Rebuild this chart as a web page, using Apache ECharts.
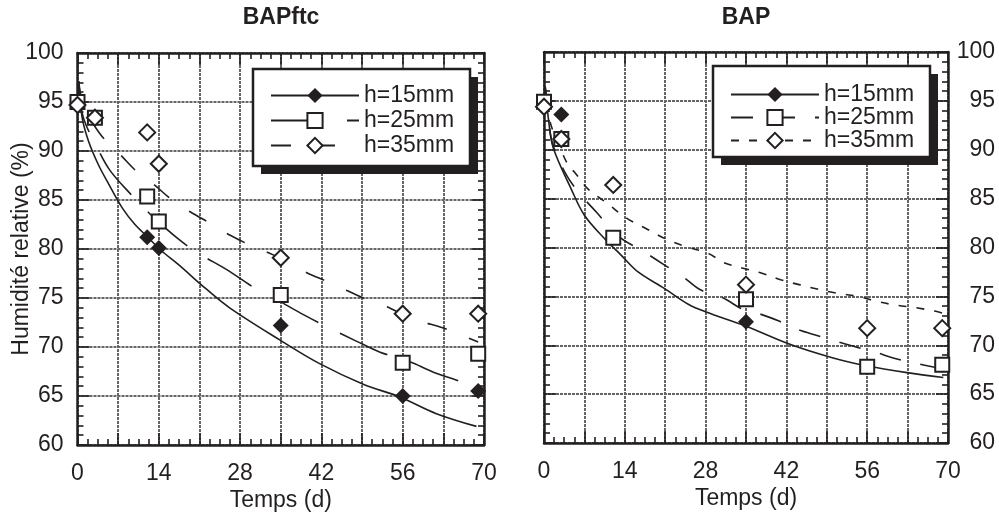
<!DOCTYPE html>
<html><head><meta charset="utf-8">
<script src="https://cdn.jsdelivr.net/npm/echarts@6/dist/echarts.min.js"></script>
<style>html,body{margin:0;padding:0;background:#fff}#c{width:999px;height:518px}</style>
</head><body><div id="c"></div>
<script>
// ---------- data ----------
const panelTitles = ['BAPftc', 'BAP'];
const seriesNames = ['h=15mm', 'h=25mm', 'h=35mm'];
const xTickLabels = [0, 14, 28, 42, 56, 70];

// measured points, left panel (BAPftc)
const ftcDays = [0, 3, 12, 14, 35, 56, 69];
const ftcH15 = [95.0, 93.4, 81.2, 80.1, 72.2, 65.0, 65.5];
const ftcH25 = [95.0, 93.4, 85.35, 82.8, 75.3, 68.4, 69.3];
const ftcH35 = [94.7, 93.4, 91.9, 88.7, 79.1, 73.4, 73.4];

// measured points, right panel (BAP)
const bapDays = [0, 3, 12, 35, 56, 69];
const bapH15 = [95.0, 93.6, 81.0, 72.4, 67.8, 68.0];
const bapH25 = [94.9, 91.1, 81.0, 74.7, 67.8, 68.0];
const bapH35 = [94.4, 91.1, 86.4, 76.2, 71.75, 71.75];

// model curves as [day, RH]
const ftcFit15 = [[0.2,97.1],[0.8,93.4],[1.9,91.0],[3.6,88.6],[5.4,86.6],[7.7,84.2],[9.9,82.5],[12.3,81.1],[14.3,79.9],[17.4,78.4],[22,76.0],[26.2,74.0],[34.9,70.7],[41.7,68.3],[49.2,66.2],[55.5,64.9],[61.8,63.2],[68.7,61.9]];
const ftcFit25 = [[0.2,97.1],[0.8,93.9],[1.5,92.6],[3,90.8],[5.5,88.1],[9,85.7],[12.8,83.4],[17.4,81.0],[21,79.5],[25.7,77.9],[30.3,76.1],[35,74.6],[38.9,73.3],[43.5,71.9],[48,70.6],[52,69.5],[57.2,68.5],[61,67.5],[65.3,66.6],[69,65.8]];
const ftcFit35 = [[0.2,97.1],[0.8,95.0],[1.5,93.9],[3,92.5],[4.5,91.3],[7.4,89.6],[10.2,87.9],[13.1,86.6],[16.3,85.0],[19.4,83.8],[22.9,82.6],[26.3,81.4],[29.7,80.4],[33.7,79.4],[36,78.7],[39.4,77.6],[42.9,76.7],[46.3,75.8],[49.2,75.0],[52.9,74.2],[56.9,73.1],[59.2,72.6],[62.7,72.0],[65.8,71.3],[69,70.5]];

const bapFit15 = [[0.2,96.5],[0.8,93.0],[1.6,90.2],[4.7,86.0],[7,83.3],[10.5,80.9],[13.4,79.2],[16.3,77.5],[20.9,75.8],[25,74.2],[28.1,73.4],[34.8,72.0],[42.6,70.1],[50.1,68.7],[55.9,67.9],[62.9,67.2],[69.2,66.7]];
const bapFit25 = [[0.2,96.5],[0.8,93.2],[1.5,90.6],[3.9,87.4],[6.5,85.3],[9.1,83.6],[12.8,81.2],[17.5,79.5],[20.9,78.2],[24.1,77.0],[27,75.7],[30.8,74.9],[35,73.5],[37.4,73.2],[40.6,72.5],[44,71.6],[47.3,71.0],[50.7,70.4],[54.2,69.8],[57.4,69.3],[60.5,68.7],[64,68.2],[69,67.6]];
const bapFit35 = [[0.2,96.5],[1,93.0],[2,91.3],[4.2,88.4],[5.3,87.7],[7.6,86.0],[11,84.5],[14.3,83.0],[17.8,81.9],[21,80.9],[24.5,80.1],[28.5,79.4],[31,78.5],[34.3,77.9],[37.6,77.4],[41,76.7],[44.2,76.2],[47.7,75.7],[51,75.3],[54.4,75.0],[57.6,74.5],[61,74.1],[64.3,73.85],[67.7,73.5],[69,73.3]];

// ---------- styling ----------
const INK = '#231f20';
const FONT = '"Liberation Sans", Arial, sans-serif';
const FS = 23;
const GRIDLINE = { color: '#666', width: 2, type: [3, 1] };
const zip = (xs, ys) => xs.map((x, i) => [x, ys[i]]);

const markers = [
  { symbol: 'diamond', size: 16, style: { color: INK, opacity: 1 } },
  { symbol: 'rect', size: 14, style: { color: '#fff', borderColor: INK, borderWidth: 2, opacity: 1 } },
  { symbol: 'diamond', size: 16, style: { color: '#fff', borderColor: INK, borderWidth: 2, opacity: 1 } }
];

const grids = [
  { left: 77.5, top: 53, width: 406.5, height: 392, outerBoundsMode: 'none' },
  { left: 544, top: 52, width: 404, height: 391, outerBoundsMode: 'none' }
];

function xAxis(g, bottom) {
  return {
    gridIndex: g, type: 'value', min: 0, max: 70, interval: 7,
    position: bottom ? 'bottom' : 'top',
    axisLine: { show: true, onZero: false, lineStyle: { color: INK, width: 2.5 } },
    axisTick: { show: true, inside: true, length: 12, lineStyle: { color: INK, width: 1.6 } },
    minorTick: { show: true, splitNumber: 4, length: 6, lineStyle: { color: INK, width: 1.6 } },
    axisLabel: {
      show: bottom, margin: 17, fontSize: FS, fontFamily: FONT, color: INK,
      formatter: v => (xTickLabels.indexOf(v) >= 0 ? String(v) : '')
    },
    splitLine: { show: bottom, lineStyle: GRIDLINE },
    name: bottom ? 'Temps (d)' : '', nameLocation: 'middle', nameGap: 44, nameMoveOverlap: false,
    nameTextStyle: { fontSize: FS, fontFamily: FONT, color: INK }
  };
}
function yAxis(g, pos, labels, grid, nameText) {
  return {
    gridIndex: g, type: 'value', min: 60, max: 100, interval: 5, position: pos,
    axisLine: { show: true, onZero: false, lineStyle: { color: INK, width: 2.5 } },
    axisTick: { show: true, inside: true, length: 12, lineStyle: { color: INK, width: 1.6 } },
    minorTick: { show: true, splitNumber: 5, length: 6, lineStyle: { color: INK, width: 1.6 } },
    axisLabel: {
      show: labels, fontSize: FS, fontFamily: FONT, color: INK,
      margin: pos === 'left' ? 14 : 47, align: 'right'
    },
    splitLine: { show: grid, lineStyle: GRIDLINE },
    name: nameText || '', nameLocation: 'middle', nameGap: 44, nameMoveOverlap: false,
    nameTextStyle: { fontSize: FS, fontFamily: FONT, color: INK }
  };
}

const dashes = [
  ['solid', [52, 24], [20, 24]],
  ['solid', [22, 20], [8, 10]]
];
const panels = [
  { prefix: 'L|', xi: 0, yi: 0, days: ftcDays, pts: [ftcH15, ftcH25, ftcH35], fits: [ftcFit15, ftcFit25, ftcFit35] },
  { prefix: 'R|', xi: 2, yi: 3, days: bapDays, pts: [bapH15, bapH25, bapH35], fits: [bapFit15, bapFit25, bapFit35] }
];

const series = [];
panels.forEach((p, pi) => {
  seriesNames.forEach((n, k) => {
    series.push({
      type: 'line', name: p.prefix + n, xAxisIndex: p.xi, yAxisIndex: p.yi,
      data: p.fits[k], showSymbol: false, symbol: markers[k].symbol, symbolSize: markers[k].size,
      smooth: 0.35, itemStyle: markers[k].style,
      lineStyle: { color: INK, width: 1.6, type: dashes[pi][k] }, z: 2, silent: true
    });
  });
  seriesNames.forEach((n, k) => {
    series.push({
      type: 'scatter', name: p.prefix + n, xAxisIndex: p.xi, yAxisIndex: p.yi,
      data: zip(p.days, p.pts[k]), symbol: markers[k].symbol, symbolSize: markers[k].size,
      itemStyle: markers[k].style, z: 3 + k, silent: true
    });
  });
});

// legend frames (box + drop shadow), drawn behind the legends
const legendBoxes = [
  { x: 253, y: 69, w: 217, h: 97 },
  { x: 713, y: 66, w: 217, h: 91 }
];
const frameGraphics = [];
legendBoxes.forEach(b => {
  frameGraphics.push({ type: 'rect', z: 10, shape: { x: b.x + 8, y: b.y + 8, width: b.w, height: b.h }, style: { fill: INK } });
  frameGraphics.push({ type: 'rect', z: 11, shape: { x: b.x, y: b.y, width: b.w, height: b.h }, style: { fill: '#fff', stroke: INK, lineWidth: 2.5 } });
});

const legendBase = {
  orient: 'vertical', itemWidth: 88, itemHeight: 19, itemGap: 0, selectedMode: false, z: 20,
  formatter: name => name.split('|')[1]
};

const option = {
  backgroundColor: '#fff',
  animation: false,
  grid: grids,
  xAxis: [xAxis(0, true), xAxis(0, false), xAxis(1, true), xAxis(1, false)],
  yAxis: [
    yAxis(0, 'left', true, true, 'Humidité relative (%)'),
    yAxis(0, 'right', false, false),
    yAxis(1, 'left', false, true),
    yAxis(1, 'right', true, false)
  ],
  legend: [
    Object.assign({}, legendBase, {
      data: seriesNames.map(n => 'L|' + n), left: 253, top: 69, padding: [14, 15, 8, 17],
      textStyle: { fontSize: FS, fontFamily: FONT, color: INK, lineHeight: 25 }
    }),
    Object.assign({}, legendBase, {
      data: seriesNames.map(n => 'R|' + n), left: 713, top: 66, padding: [17, 17, 11, 17],
      textStyle: { fontSize: FS, fontFamily: FONT, color: INK, lineHeight: 21 }
    })
  ],
  graphic: frameGraphics.concat([
    { type: 'text', x: 281, y: 18, style: { text: panelTitles[0], font: 'bold 23px ' + FONT, fill: INK, align: 'center', verticalAlign: 'middle' } },
    { type: 'text', x: 746, y: 18, style: { text: panelTitles[1], font: 'bold 23px ' + FONT, fill: INK, align: 'center', verticalAlign: 'middle' } }
  ]),
  series: series
};

const chart = echarts.init(document.getElementById('c'), null, { renderer: 'canvas' });
chart.setOption(option);
</script>
</body></html>
